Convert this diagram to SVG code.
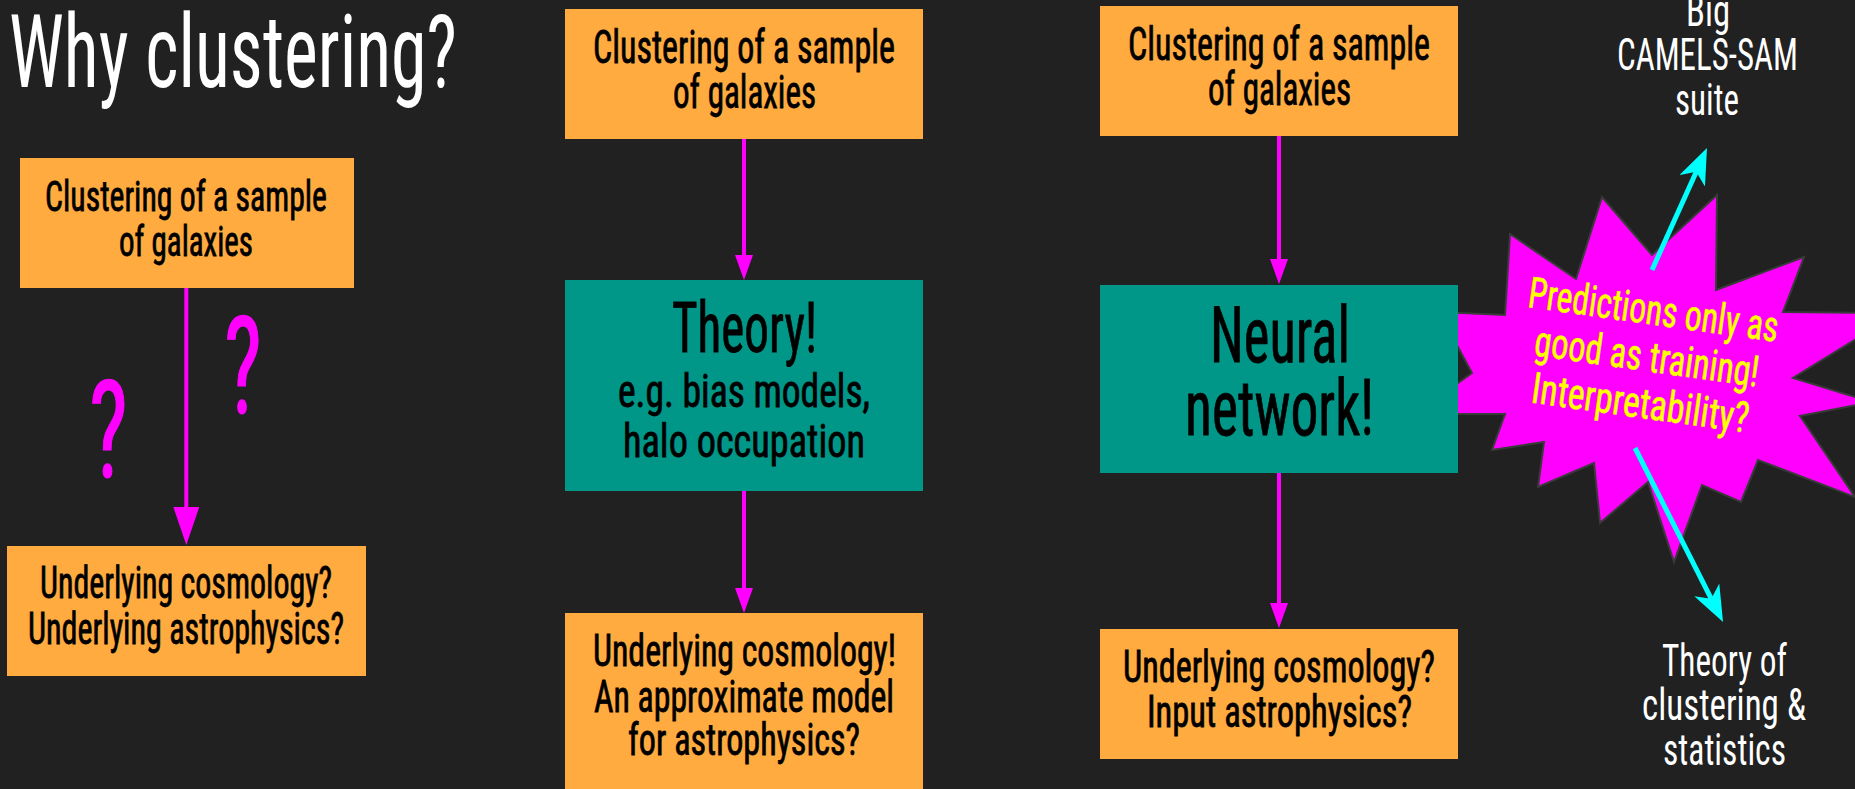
<svg xmlns="http://www.w3.org/2000/svg" width="1855" height="789" viewBox="0 0 1855 789">
  <defs>
    <style>
      .bg { fill: #212121; }
      .box-o { fill: #ffab40; }
      .box-t { fill: #009688; }
      .txt { font-family: "Liberation Sans Narrow", "Roboto Condensed", Roboto, "Liberation Sans", sans-serif; font-stretch: condensed; text-anchor: middle; font-weight: 400; }
      .dark { fill: #000000; stroke: #000000; stroke-width: 0.8; }
      .light { fill: #ffffff; }
      .hot { fill: #ffff00; stroke: #ffff00; stroke-width: 0.6; }
      .mag { fill: #ff00ff; stroke: #ff00ff; stroke-width: 1.2; }
      .link { stroke: #ff00ff; stroke-width: 4; fill: none; }
      .ray { stroke: #00ffff; stroke-width: 5; fill: none; }
      .burst { fill: #ff00ff; stroke: #3a3a3a; stroke-width: 2; stroke-linejoin: miter; }
    </style>
    <marker id="headBig" markerUnits="userSpaceOnUse" markerWidth="38" markerHeight="26" refX="0" refY="13" orient="auto">
      <path d="M0,0 L38,13 L0,26 z" fill="#ff00ff"/>
    </marker>
    <marker id="head" markerUnits="userSpaceOnUse" markerWidth="25" markerHeight="18" refX="0" refY="9" orient="auto">
      <path d="M0,0 L25,9 L0,18 z" fill="#ff00ff"/>
    </marker>
    <marker id="headCyan" markerUnits="userSpaceOnUse" markerWidth="36" markerHeight="28" refX="10" refY="14" orient="auto">
      <path d="M0,0 L36,14 L0,28 L10,14 z" fill="#00ffff"/>
    </marker>
  </defs>

  <rect class="bg" x="0" y="0" width="1855" height="789"/>

  <text id="title" class="txt light" x="9" y="87" font-size="102" style="text-anchor:start" textLength="448" lengthAdjust="spacingAndGlyphs">Why clustering?</text>

  <!-- burst callout sits under the cyan rays -->
  <g id="burst">
    <polygon class="burst" points="1510,234 1576,279 1602,197 1652,255 1717,195 1716,290 1804,257 1783,312 1898,313 1793,378 1871,402 1800,416 1855,497 1758,460 1741,502 1702,485 1674,562 1648,482 1600,523 1594,463 1538,487 1544,442 1492,450 1505,414 1415,414 1472,373 1439,312 1505,315"/>
    <g transform="rotate(8 1645 371)">
      <text class="txt hot" x="1645" y="324" font-size="43" textLength="252" lengthAdjust="spacingAndGlyphs">Predictions only as</text>
      <text class="txt hot" x="1645" y="371" font-size="43" textLength="226" lengthAdjust="spacingAndGlyphs">good as training!</text>
      <text class="txt hot" x="1645" y="418" font-size="43" textLength="219" lengthAdjust="spacingAndGlyphs">Interpretability?</text>
    </g>
  </g>

  <g id="connectors">
    <line class="link" x1="186.3" y1="288" x2="186.3" y2="507" stroke-width="5" marker-end="url(#headBig)"/>
    <line class="link" x1="744" y1="139" x2="744" y2="255" marker-end="url(#head)"/>
    <line class="link" x1="744" y1="491" x2="744" y2="588" marker-end="url(#head)"/>
    <line class="link" x1="1279" y1="136" x2="1279" y2="259" marker-end="url(#head)"/>
    <line class="link" x1="1279" y1="473" x2="1279" y2="603" marker-end="url(#head)"/>
    <line class="ray" x1="1652" y1="270" x2="1696.3" y2="171.7" marker-end="url(#headCyan)"/>
    <line class="ray" x1="1635" y1="448" x2="1711.3" y2="598.8" marker-end="url(#headCyan)"/>
  </g>

  <!-- column 1 -->
  <g id="sample-a">
    <rect class="box-o" x="20" y="158" width="334" height="130"/>
    <text class="txt dark" x="186" y="211" font-size="43" textLength="282" lengthAdjust="spacingAndGlyphs">Clustering of a sample</text>
    <text class="txt dark" x="186" y="256" font-size="43" textLength="134" lengthAdjust="spacingAndGlyphs">of galaxies</text>
  </g>
  <g id="marks-a">
    <text class="txt mag" x="108.5" y="477" font-size="136" textLength="39" lengthAdjust="spacingAndGlyphs">?</text>
    <text class="txt mag" x="243" y="413" font-size="136" textLength="38" lengthAdjust="spacingAndGlyphs">?</text>
  </g>
  <g id="result-a">
    <rect class="box-o" x="7" y="546" width="359" height="130"/>
    <text class="txt dark" x="186" y="598" font-size="44" textLength="292" lengthAdjust="spacingAndGlyphs">Underlying cosmology?</text>
    <text class="txt dark" x="186" y="644" font-size="44" textLength="316" lengthAdjust="spacingAndGlyphs">Underlying astrophysics?</text>
  </g>

  <!-- column 2 -->
  <g id="sample-b">
    <rect class="box-o" x="565" y="9" width="358" height="130"/>
    <text class="txt dark" x="744" y="63" font-size="46" textLength="302" lengthAdjust="spacingAndGlyphs">Clustering of a sample</text>
    <text class="txt dark" x="744.5" y="108" font-size="46" textLength="143" lengthAdjust="spacingAndGlyphs">of galaxies</text>
  </g>
  <g id="theory">
    <rect class="box-t" x="565" y="280" width="358" height="211"/>
    <text class="txt dark" x="744.5" y="352" font-size="71" textLength="145" lengthAdjust="spacingAndGlyphs">Theory!</text>
    <text class="txt dark" x="744" y="407" font-size="46" textLength="252" lengthAdjust="spacingAndGlyphs">e.g. bias models,</text>
    <text class="txt dark" x="744" y="457" font-size="46" textLength="242" lengthAdjust="spacingAndGlyphs">halo occupation</text>
  </g>
  <g id="result-b">
    <rect class="box-o" x="565" y="613" width="358" height="176"/>
    <text class="txt dark" x="744.5" y="666" font-size="45" textLength="303" lengthAdjust="spacingAndGlyphs">Underlying cosmology!</text>
    <text class="txt dark" x="744" y="712" font-size="45" textLength="300" lengthAdjust="spacingAndGlyphs">An approximate model</text>
    <text class="txt dark" x="744" y="755" font-size="45" textLength="232" lengthAdjust="spacingAndGlyphs">for astrophysics?</text>
  </g>

  <!-- column 3 -->
  <g id="sample-c">
    <rect class="box-o" x="1100" y="6" width="358" height="130"/>
    <text class="txt dark" x="1279" y="60" font-size="46" textLength="302" lengthAdjust="spacingAndGlyphs">Clustering of a sample</text>
    <text class="txt dark" x="1279.5" y="105" font-size="46" textLength="143" lengthAdjust="spacingAndGlyphs">of galaxies</text>
  </g>
  <g id="network">
    <rect class="box-t" x="1100" y="285" width="358" height="188"/>
    <text class="txt dark" x="1280" y="362" font-size="78" textLength="140" lengthAdjust="spacingAndGlyphs">Neural</text>
    <text class="txt dark" x="1279.5" y="435" font-size="78" textLength="189" lengthAdjust="spacingAndGlyphs">network!</text>
  </g>
  <g id="result-c">
    <rect class="box-o" x="1100" y="629" width="358" height="130"/>
    <text class="txt dark" x="1279" y="682" font-size="45" textLength="312" lengthAdjust="spacingAndGlyphs">Underlying cosmology?</text>
    <text class="txt dark" x="1279.5" y="727" font-size="45" textLength="265" lengthAdjust="spacingAndGlyphs">Input astrophysics?</text>
  </g>

  <!-- outcomes of the burst -->
  <g id="suite">
    <text class="txt light" x="1708" y="26" font-size="45" textLength="44" lengthAdjust="spacingAndGlyphs">Big</text>
    <text class="txt light" x="1707.5" y="70" font-size="45" textLength="181" lengthAdjust="spacingAndGlyphs">CAMELS-SAM</text>
    <text class="txt light" x="1707" y="115" font-size="45" textLength="64" lengthAdjust="spacingAndGlyphs">suite</text>
  </g>
  <g id="theory-stats">
    <text class="txt light" x="1724.5" y="676" font-size="45" textLength="125" lengthAdjust="spacingAndGlyphs">Theory of</text>
    <text class="txt light" x="1724" y="720" font-size="45" textLength="164" lengthAdjust="spacingAndGlyphs">clustering &amp;</text>
    <text class="txt light" x="1724.5" y="765" font-size="45" textLength="123" lengthAdjust="spacingAndGlyphs">statistics</text>
  </g>
</svg>
